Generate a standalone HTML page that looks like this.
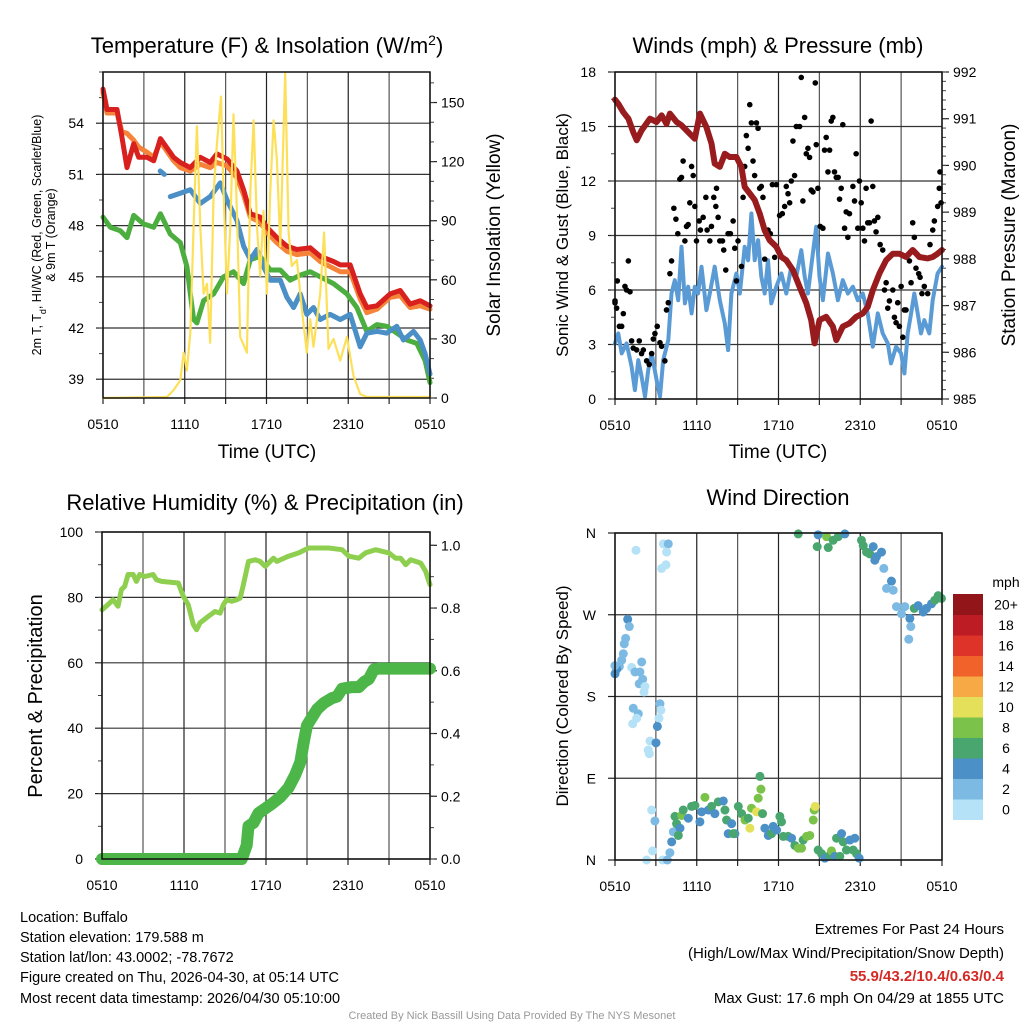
<!DOCTYPE html>
<html><head><meta charset="utf-8">
<style>
html,body{margin:0;padding:0;background:#fff;}
svg{display:block;font-family:"Liberation Sans",Arial,sans-serif;}
</style></head>
<body>
<svg id="chart" width="1024" height="1024" viewBox="0 0 1024 1024" xmlns="http://www.w3.org/2000/svg">
<rect x="0" y="0" width="1024" height="1024" fill="#fff"/>
<g id="layer"></g>
<!-- Titles -->
<text x="267" y="53" font-size="22" text-anchor="middle">Temperature (F) &amp; Insolation (W/m<tspan baseline-shift="super" font-size="14">2</tspan>)</text>
<text x="778" y="53" font-size="22" text-anchor="middle">Winds (mph) &amp; Pressure (mb)</text>
<text x="265" y="510" font-size="22" text-anchor="middle">Relative Humidity (%) &amp; Precipitation (in)</text>
<text x="778" y="505" font-size="22" text-anchor="middle">Wind Direction</text>
<!-- Axis titles -->
<text font-size="12.5" text-anchor="middle" transform="translate(41,235) rotate(-90)">2m T, T<tspan baseline-shift="sub" font-size="9">d</tspan>, HI/WC (Red, Green, Scarlet/Blue)</text>
<text font-size="12.5" text-anchor="middle" transform="translate(55,235) rotate(-90)">&amp; 9m T (Orange)</text>
<text font-size="19" text-anchor="middle" transform="translate(500,235) rotate(-90)">Solar Insolation (Yellow)</text>
<text x="267" y="458" font-size="19" text-anchor="middle">Time (UTC)</text>
<text font-size="17" text-anchor="middle" transform="translate(568,235) rotate(-90)">Sonic Wind &amp; Gust (Blue, Black)</text>
<text font-size="19" text-anchor="middle" transform="translate(1015,235) rotate(-90)">Station Pressure (Maroon)</text>
<text x="778" y="458" font-size="19" text-anchor="middle">Time (UTC)</text>
<text font-size="20" text-anchor="middle" transform="translate(42,696) rotate(-90)">Percent &amp; Precipitation</text>
<text font-size="17" text-anchor="middle" transform="translate(568,696) rotate(-90)">Direction (Colored By Speed)</text>
<!-- Footer -->
<g font-size="14.5">
<text x="20" y="922">Location: Buffalo</text>
<text x="20" y="942">Station elevation: 179.588 m</text>
<text x="20" y="962">Station lat/lon: 43.0002; -78.7672</text>
<text x="20" y="982">Figure created on Thu, 2026-04-30, at 05:14 UTC</text>
<text x="20" y="1003">Most recent data timestamp: 2026/04/30 05:10:00</text>
</g>
<g font-size="15" text-anchor="end">
<text x="1004" y="934">Extremes For Past 24 Hours</text>
<text x="1004" y="958">(High/Low/Max Wind/Precipitation/Snow Depth)</text>
<text x="1004" y="981" fill="#d42a25" font-weight="bold">55.9/43.2/10.4/0.63/0.4</text>
<text x="1004" y="1003">Max Gust: 17.6 mph On 04/29 at 1855 UTC</text>
</g>
<text x="512" y="1019" font-size="11" fill="#999" text-anchor="middle">Created By Nick Bassill Using Data Provided By The NYS Mesonet</text>
</svg>
<script>
// ---------- DATA ----------
const xTickLabels = ["0510","1110","1710","2310","0510"];
// Temperature panel
const redHours = [0,0.29,1.03,1.39,1.76,2.25,2.62,3.23,3.72,4.21,5.18,5.67,6.41,7.14,7.87,8.36,9.1,9.83,10.32,10.81,11.54,12.03,12.76,13.5,14.23,15.21,15.94,16.92,17.41,18.14,18.88,19.37,20.1,21.08,21.81,22.54,23.28,24];
const redTemp = [56.0,54.8,54.8,53.2,51.4,52.8,52.0,52.0,51.8,53.1,52.0,51.7,51.4,52.0,51.7,52.2,51.9,51.2,50.1,48.7,48.5,47.9,47.3,46.8,46.6,46.7,46.2,45.9,45.7,45.7,44.0,43.2,43.3,44.0,44.2,43.4,43.6,43.3];
const orangeTemp = [55.8,54.6,54.6,53.5,53.4,53.0,52.6,52.3,52.0,52.9,51.8,51.4,51.2,51.6,51.4,51.7,51.5,50.8,49.8,48.5,48.2,47.6,47.0,46.5,46.3,46.4,45.9,45.5,45.3,45.3,43.7,42.9,43.1,43.8,43.9,43.2,43.3,43.1];
const blueHours = [4.2,4.5,null,4.94,5.67,6.41,7.14,7.87,8.61,9.1,9.83,10.32,10.81,11.3,11.78,12.27,13.01,13.5,13.99,14.47,14.96,15.45,15.94,16.67,17.41,18.14,18.88,19.37,20.1,20.83,21.56,22.05,22.79,23.28,23.64,24];
const blueTemp = [51.2,51.0,null,49.7,49.9,50.1,49.3,49.7,50.5,49.5,48.3,46.8,46.0,46.6,45.6,44.8,44.8,43.8,43.2,44.0,42.8,43.2,42.5,42.8,42.5,42.8,40.9,41.7,41.8,41.7,42.1,41.3,41.8,41.3,40.5,39.3];
const greenHours = [0,0.54,1.27,1.76,2.25,2.98,3.72,4.21,4.94,5.67,6.16,6.65,6.89,7.38,8.12,8.85,9.58,10.32,10.81,11.54,12.27,13.01,13.74,14.47,15.21,15.94,16.92,17.9,18.63,19.36,20.1,20.83,21.56,22.3,23.03,23.64,24];
const greenTemp = [48.5,47.9,47.7,47.3,48.6,48.1,47.9,48.7,47.5,47.0,45.6,42.5,42.3,43.6,44.0,45.0,45.3,44.6,46.0,46.2,45.4,45.4,44.8,45.1,45.3,45.0,44.6,44.0,43.2,41.8,42.2,42.1,41.7,41.3,41.1,40.1,38.8];
const solarHours = [0,4.69,5.18,5.67,5.92,6.16,6.41,6.65,6.89,7.14,7.38,7.63,7.87,8.12,8.36,8.66,8.85,9.1,9.34,9.58,9.83,10.07,10.56,10.81,11.05,11.3,11.54,11.78,12.03,12.27,12.52,12.76,13.01,13.37,13.62,13.86,14.23,14.6,14.96,15.21,15.45,15.94,16.23,16.55,16.92,17.41,17.9,18.39,18.88,19.36,24];
const solarWm2 = [0,0.5,4,9,23,14,33,87,138,87,53,58,28,104,129,153,104,53,87,144,95,31,23,104,141,87,62,95,53,104,141,121,77,165,84,67,70,45,23,40,26,53,84,25,30,19,31,11,2,0.5,0.5];
const tempTicks = [39,42,45,48,51,54];
const solarTicks = [0,30,60,90,120,150];
// Winds panel
const pressHours = [0,0.24,0.61,0.98,1.34,1.59,1.95,2.56,3.05,3.42,3.78,4.03,4.52,4.88,5.25,5.86,6.23,6.71,7.08,7.32,7.69,8.06,8.42,8.91,9.28,9.52,9.89,10.25,10.62,10.99,11.35,11.84,12.21,12.57,13.06,13.55,14.04,14.4,14.65,15.01,15.5,15.99,16.24,16.72,17.21,17.7,18.19,18.55,18.92,19.41,19.9,20.39,20.87,21.36,21.85,22.34,22.95,23.32,23.68,24];
const pressMb = [991.41,991.32,991.14,991.0,990.71,990.54,990.75,991.0,990.93,991.07,990.89,991.11,990.93,990.86,990.75,990.57,991.11,990.82,990.47,990.04,989.97,990.25,990.18,990.18,989.97,989.54,989.4,989.26,988.97,988.61,988.4,988.26,988.04,987.97,987.76,987.4,987.05,986.69,986.19,986.69,986.76,986.55,986.26,986.55,986.62,986.76,986.83,986.97,987.33,987.69,987.97,988.11,988.11,988.04,988.19,988.04,988.01,988.04,988.11,988.19];
const windHours = [0,.24,.49,.85,1.22,1.46,1.71,1.95,2.2,2.44,2.69,3.05,3.3,3.54,3.91,4.15,4.39,4.64,4.88,5.13,5.37,5.62,5.86,6.1,6.35,6.71,6.96,7.32,7.69,8.06,8.3,8.54,8.91,9.16,9.52,9.77,10.01,10.25,10.5,10.74,10.99,11.23,11.47,11.84,12.21,12.57,12.94,13.31,13.67,13.92,14.16,14.4,14.77,15.01,15.26,15.63,15.99,16.36,16.72,17.09,17.46,17.82,18.19,18.55,18.92,19.29,19.65,20.02,20.26,20.63,21.0,21.24,21.48,21.73,21.97,22.22,22.46,22.7,23.07,23.32,23.68,24];
const windMph = [3.06,3.61,2.51,3.06,1.78,0.49,2.14,1.23,0.13,1.59,2.51,1.04,0.13,2.14,3.24,5.81,6.54,5.44,8.38,5.26,6.18,4.71,6.18,5.81,7.28,4.89,5.81,7.28,5.44,4.16,2.69,5.81,6.91,5.81,8.38,7.64,10.21,7.64,8.74,6.73,5.81,7.64,5.26,6.18,6.91,5.81,7.28,6.73,8.19,6.73,5.81,7.28,9.48,6.73,5.44,8.01,6.91,5.44,6.54,5.81,6.18,5.44,5.81,4.71,2.88,4.71,3.61,3.06,1.96,2.88,2.51,1.41,3.61,4.71,5.81,4.71,3.61,4.34,3.61,5.44,6.91,7.28];
const gustHours = [0,0,0.12,0.17,0.32,0.49,0.61,0.73,0.85,0.98,1.1,1.22,1.34,1.59,1.78,1.95,2.08,2.32,2.51,2.69,2.81,2.93,3.1,3.3,3.42,3.66,3.78,3.91,4.03,4.15,4.32,4.47,4.61,4.76,4.88,5.0,5.13,5.25,5.37,5.49,5.62,5.74,5.86,5.98,6.18,6.27,6.47,6.67,6.76,6.96,7.08,7.25,7.4,7.45,7.57,7.69,7.89,7.98,8.13,8.3,8.47,8.67,8.79,8.91,9.03,9.28,9.4,9.52,9.64,9.77,9.89,10.01,10.13,10.25,10.38,10.5,10.62,10.74,10.86,10.99,11.23,11.4,11.55,11.72,11.84,12.08,12.28,12.45,12.57,12.7,12.82,12.94,13.06,13.18,13.31,13.55,13.67,13.79,13.92,14.04,14.16,14.28,14.4,14.53,14.7,14.77,14.89,15.06,15.26,15.38,15.5,15.63,15.75,15.87,15.99,16.11,16.24,16.38,16.48,16.6,16.72,16.85,16.97,17.09,17.21,17.46,17.58,17.7,17.82,17.94,18.07,18.19,18.31,18.43,18.55,18.68,18.8,18.92,19.04,19.16,19.29,19.46,19.65,19.78,19.9,20.02,20.14,20.39,20.51,20.63,20.75,20.87,21.0,21.12,21.24,21.36,21.61,21.73,21.85,21.97,22.09,22.29,22.39,22.53,22.7,22.95,23.12,23.32,23.44,23.68,23.8,23.85,23.93];
const gustMph = [5.3,5.4,5.0,6.5,4.0,4.0,4.7,6.2,6.0,7.6,5.9,3.2,2.8,2.7,3.2,2.5,2.7,2.1,1.9,2.5,3.3,3.6,4.0,3.1,2.9,2.1,4.9,5.3,6.9,7.6,10.5,9.9,9.1,12.1,12.2,13.1,8.7,9.5,9.6,10.8,12.8,12.3,10.6,8.7,9.8,9.3,10.0,11.1,9.3,8.7,9.5,11.1,10.6,11.6,10.0,8.7,8.7,8.2,7.1,9.1,9.1,9.8,8.3,6.5,8.7,7.3,11.1,12.8,14.5,13.8,16.2,15.2,13.1,12.3,15.2,14.9,11.6,11.7,11.1,7.7,9.3,9.1,11.8,7.8,11.8,10.1,10.2,10.6,11.7,11.3,10.8,12.0,14.2,12.3,15.0,15.0,17.7,10.9,15.5,13.5,13.8,13.3,11.5,11.4,17.4,14.0,11.6,9.5,9.4,13.7,14.4,12.5,13.7,15.3,15.5,12.5,12.2,12.2,11.0,11.6,15.1,9.4,10.3,8.9,10.2,11.7,10.9,13.5,9.4,12.0,10.8,9.4,8.7,11.6,9.7,9.7,15.3,11.7,9.8,9.2,10.0,8.5,8.2,6.0,6.4,5.0,5.4,6.0,4.5,4.2,5.3,4.0,6.2,3.4,4.9,4.9,7.6,6.4,9.7,8.9,7.2,6.9,6.7,5.8,6.2,5.8,8.5,9.3,9.8,10.6,11.6,12.5,10.8];
const windTicks = [0,3,6,9,12,15,18];
const pressTicks = [985,986,987,988,989,990,991,992];
// Humidity panel
const rhHours = [0,.44,.81,1.17,1.42,1.66,1.91,2.28,2.52,2.76,3.13,3.74,3.99,4.36,5.58,5.95,6.31,6.68,6.92,7.17,7.78,8.27,8.64,8.88,9.13,9.49,9.86,10.11,10.35,10.72,11.21,11.57,11.94,12.55,12.8,13.65,14.39,15.12,16.59,17.57,18.06,18.79,19.28,20.01,20.99,21.48,21.85,22.22,22.58,22.95,23.32,23.68,24];
const rhPct = [76.2,77.8,79.3,77.3,82.4,83.4,87.0,87.0,84.9,87.0,86.4,87.0,85.4,84.9,84.4,80.3,77.8,71.7,70.1,72.2,74.2,75.7,75.2,77.8,79.3,78.8,79.3,79.8,83.9,91.0,91.5,91.0,89.5,92.0,91.0,92.6,93.6,95.1,95.1,94.6,92.6,92.0,93.6,94.6,93.6,92.0,92.0,90.0,91.5,91.0,90.5,88.0,83.9];
const precipHours = [0,10.23,10.59,10.72,11.08,11.45,11.94,12.43,13.04,13.65,14.14,14.51,14.75,15.0,15.37,15.73,16.22,16.83,17.2,17.57,18.3,18.79,19.16,19.53,19.89,20.26,24];
const precipIn = [0,0,0.044,0.105,0.115,0.146,0.161,0.176,0.197,0.227,0.268,0.309,0.37,0.426,0.452,0.477,0.497,0.513,0.518,0.543,0.548,0.548,0.564,0.574,0.604,0.607,0.607];
const rhTicks = [0,20,40,60,80,100];
const precipTicks = [0,0.2,0.4,0.6,0.8,1.0];
// Direction panel
const dirHours = [1.54,3.55,3.91,3.79,3.74,3.42,0.93,1.05,0.78,0.68,0.61,0.49,0.32,0.12,0,0,1.22,1.47,1.83,1.96,2.03,1.78,2.2,2.13,1.34,1.71,1.59,1.3,3.3,3.37,3.23,3.11,2.57,2.44,2.52,3.01,2.69,2.93,2.76,2.32,3.5,3.84,4.03,4.16,4.28,4.4,4.52,4.77,4.65,4.89,5.01,5.38,5.62,5.87,6.23,6.36,6.6,6.85,7.09,7.33,7.58,7.95,8.07,8.19,8.31,8.56,8.8,8.68,9.05,9.29,9.54,9.78,9.9,10.02,10.39,10.51,10.71,10.64,10.83,11.0,11.25,11.49,11.61,11.86,12.1,12.22,12.35,12.71,12.96,13.2,13.45,13.69,13.81,14.06,14.3,14.55,14.62,14.69,14.91,15.16,15.4,15.77,15.89,16.14,16.26,16.5,16.63,16.75,16.99,17.24,17.48,17.6,17.73,17.92,13.45,14.91,15.53,15.65,14.84,16.01,16.38,16.87,18.09,18.22,18.46,18.7,18.95,19.19,19.56,19.07,19.73,20.29,19.93,20.42,20.66,21.03,21.27,21.64,21.71,21.56,21.96,22.25,22.62,22.86,23.23,23.47,23.72,23.96];
const dirDeg = [341,348,348,339,325,321,265,257,244,238,227,220,213,210,205,214,212,207,207,218,199,194,191,185,167,161,156,150,172,165,156,147,131,121,117,129,55,43,10,0,0,0,8,20,31,48,40,35,27,49,55,46,59,60,42,53,69,55,59,51,64,65,55,44,29,40,29,29,59,51,44,46,35,57,53,68,78,92,51,35,27,29,37,33,48,42,26,26,24,16,13,13,22,26,27,44,55,59,11,7,2,5,10,4,24,4,29,20,11,22,11,24,7,2,359,358,356,344,345,352,356,359,352,346,339,337,345,334,339,330,321,307,299,297,279,271,279,266,257,243,277,280,273,277,282,286,291,288];
const dirSpeed = [1,1,3,1,1,1,4,3,3,3,3,3,3,4,4,3,1,3,3,3,3,3,1,1,3,3,1,1,3,1,1,4,1,1,1,4,1,3,1,1,1,3,3,4,3,7,7,4,7,9,7,4,7,7,4,5,9,4,7,5,7,5,7,7,5,5,5,7,7,7,9,7,11,9,11,9,9,7,7,5,5,7,5,5,7,7,7,7,5,7,9,9,7,9,9,9,9,11,7,7,5,7,9,5,7,7,5,7,7,5,7,5,7,5,7,5,9,7,7,7,7,5,7,7,7,7,5,5,5,5,3,5,3,3,3,3,3,5,3,3,7,5,5,5,5,7,7,7];
const dirTicks = [0,90,180,270,360];
const dirTickLabels = ["N","E","S","W","N"];
const speedBinLabels = ["0","2","4","6","8","10","12","14","16","18","20+"];
const speedBinColors = ["#b5e2f7","#7cb9e3","#4b90c7","#4aa66f","#7bc24a","#e5e05a","#f6a945","#f0622a","#dd3328","#be1c24","#921619"];

// ---------- RENDER ----------
const NS = "http://www.w3.org/2000/svg";
const layer = document.getElementById("layer");
function mk(tag, attrs, parent){
  const e = document.createElementNS(NS, tag);
  for (const k in attrs) e.setAttribute(k, attrs[k]);
  (parent||layer).appendChild(e);
  return e;
}
function scale(d0,d1,r0,r1){ return v => r0 + (v-d0)/(d1-d0)*(r1-r0); }

function panel(name, x0, x1, y0, y1){
  const g = mk("g", {});
  
  
  const sx = scale(0,24,x0,x1);
  for (let h=0; h<=24; h+=3){
    const X = sx(h);
    const l = mk("line",{x1:X,x2:X,y1:y0,y2:y1,stroke:(h%6===0)?"#222":"#555","stroke-width":1.2},g);
    
    
    const t = mk("line",{x1:X,x2:X,y1:y1,y2:y1+6,stroke:"#222","stroke-width":1.2},g);
    
    
  }
  xTickLabels.forEach((lab,i)=>{
    const tx = mk("text",{x:sx(i*6),y:y1+31,"font-size":14,"text-anchor":"middle"},g);
    tx.textContent = lab;
    
    
  });
  return {g, sx, x0, x1, y0, y1};
}
function leftAxis(P, d0, d1, ticks, fmt, minorStep){
  const sy = scale(d0,d1,P.y1,P.y0);
  ticks.forEach(v=>{
    const Y = sy(v);
    if (Y < P.y0-0.5 || Y > P.y1+0.5) return;
    const gl = mk("line",{x1:P.x0,x2:P.x1,y1:Y,y2:Y,stroke:"#333","stroke-width":1.2},P.g);
    
    
    const tk = mk("line",{x1:P.x0-7,x2:P.x0,y1:Y,y2:Y,stroke:"#222","stroke-width":1.2},P.g);
    
    
    const t = mk("text",{x:P.x0-19,y:Y+5,"font-size":14,"text-anchor":"end"},P.g);
    t.textContent = fmt(v);
    
    
  });
  if (minorStep){
    for (let v=Math.ceil(d0/minorStep)*minorStep; v<=d1; v+=minorStep){
      const Y = sy(v);
      const m = mk("line",{x1:P.x0-4,x2:P.x0,y1:Y,y2:Y,stroke:"#444","stroke-width":1},P.g);
      
      
    }
  }
  return sy;
}
function rightAxis(P, d0, d1, ticks, fmt, minorStep){
  const sy = scale(d0,d1,P.y1,P.y0);
  ticks.forEach(v=>{
    const Y = sy(v);
    const tk = mk("line",{x1:P.x1,x2:P.x1+7,y1:Y,y2:Y,stroke:"#222","stroke-width":1.2},P.g);
    
    
    const t = mk("text",{x:P.x1+11,y:Y+5,"font-size":14,"text-anchor":"start"},P.g);
    t.textContent = fmt(v);
    
    
  });
  if (minorStep){
    for (let v=Math.ceil(d0/minorStep-1e-9)*minorStep; v<=d1+1e-9; v+=minorStep){
      const Y = sy(v);
      const m = mk("line",{x1:P.x1,x2:P.x1+4,y1:Y,y2:Y,stroke:"#444","stroke-width":1},P.g);
      
      
    }
  }
  return sy;
}
function frame(P){
  const f = mk("rect",{x:P.x0,y:P.y0,width:P.x1-P.x0,height:P.y1-P.y0,fill:"none",stroke:"#111","stroke-width":1.5},P.g);
  
  
}
function line(P, xs, ys, sy, color, width, name){
  let d = "", pen = false;
  for (let i=0;i<xs.length;i++){
    if (xs[i]===null || ys[i]===null){ pen=false; continue; }
    d += (pen?"L":"M") + P.sx(xs[i]).toFixed(1) + "," + sy(ys[i]).toFixed(1);
    pen = true;
  }
  const p = mk("path",{d:d,fill:"none",stroke:color,"stroke-width":width,"stroke-linejoin":"round","stroke-linecap":"round"},P.g);
  
  
  return p;
}

// Panel 1: temperature
const P1 = panel("temperature-chart", 103, 430, 72, 398);
const syT = leftAxis(P1, 37.9, 57.0, tempTicks, v=>String(v), 1.5);
const syS = rightAxis(P1, 0, 165.5, solarTicks, v=>String(v), 10);
line(P1, greenHours, greenTemp, syT, "#4bae3f", 5, "dewpoint-line");
line(P1, redHours, orangeTemp, syT, "#f5843a", 5, "9m-temperature-line");
line(P1, redHours, redTemp, syT, "#d8201f", 5, "2m-temperature-line");
line(P1, blueHours, blueTemp, syT, "#4a8fc6", 5, "wind-chill-line");
line(P1, solarHours, solarWm2, syS, "#fde05a", 2.2, "solar-insolation-line");
frame(P1);

// Panel 2: winds
const P2 = panel("winds-chart", 615, 942, 72, 399);
const syW = leftAxis(P2, 0, 18, windTicks, v=>String(v), 1.5);
const syP = rightAxis(P2, 985, 992, pressTicks, v=>String(v), 0.2);
line(P2, windHours, windMph, syW, "#5a9bd5", 4, "sonic-wind-line");
gustHours.forEach((h,i)=>{
  const c = mk("circle",{cx:P2.sx(h),cy:syW(gustMph[i]),r:2.8,fill:"#000"},P2.g);
  
  
});
line(P2, pressHours, pressMb, syP, "#981b1e", 6, "station-pressure-line");
frame(P2);

// Panel 3: humidity
const P3 = panel("humidity-chart", 102, 430, 532, 859);
const syR = leftAxis(P3, 0, 100, rhTicks, v=>String(v), 10);
const syPr = rightAxis(P3, 0, 1.0424, precipTicks, v=>v.toFixed(1), 0.1);
line(P3, rhHours, rhPct, syR, "#8fcf4f", 5, "relative-humidity-line");
line(P3, precipHours, precipIn, syPr, "#4cb648", 12, "precipitation-line");
frame(P3);

// Panel 4: wind direction
const P4 = panel("wind-direction-chart", 615, 942, 533, 860);
const syD = leftAxis(P4, 0, 360, dirTicks, v=>dirTickLabels[dirTicks.indexOf(v)], 0);
dirHours.forEach((h,i)=>{
  const bin = Math.min(10, Math.floor(dirSpeed[i]/2));
  const c = mk("circle",{cx:P4.sx(h),cy:syD(dirDeg[i]),r:4.5,fill:speedBinColors[bin]},P4.g);
  
  
});
frame(P4);

// Colorbar legend
const cb = mk("g",{});


const cbTop = 594, cbH = 20.5;
const mphT = mk("text",{x:1006,y:587,"font-size":14,"text-anchor":"middle"},cb);
mphT.textContent = "mph";


speedBinLabels.forEach((lab,i)=>{
  const k = speedBinLabels.length-1-i;
  const y = cbTop + k*cbH;
  const r = mk("rect",{x:953,y:y,width:30,height:cbH+0.5,fill:speedBinColors[i]},cb);
  
  
  const t = mk("text",{x:1006,y:y+cbH/2+5,"font-size":14,"text-anchor":"middle"},cb);
  t.textContent = lab;
  
  
});
</script>
</body></html>
